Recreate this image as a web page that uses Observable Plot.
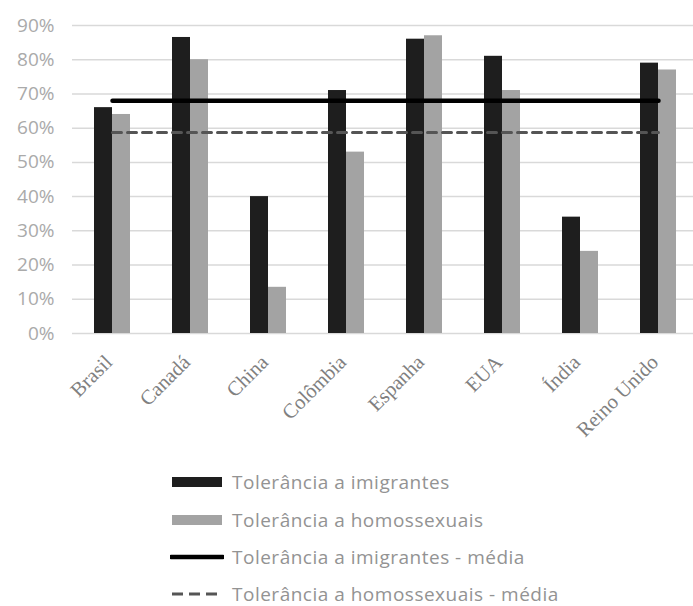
<!DOCTYPE html>
<html>
<head>
<meta charset="utf-8">
<script src="https://cdn.jsdelivr.net/npm/d3@7"></script>
<script src="https://cdn.jsdelivr.net/npm/@observablehq/plot@0.6"></script>
<style>
  html, body { margin: 0; padding: 0; background: #fff; }
  #wrap { position: relative; width: 693px; height: 606px; overflow: hidden; }
  #chart svg { display: block; }
  .leg { position: absolute; left: 170px; height: 24px; display: flex; align-items: center;
         font-family: "Open Sans", sans-serif; font-size: 19px; letter-spacing: 0.5px; color: #939393; white-space: nowrap; }
  .leg svg { margin-right: 8px; }
</style>
</head>
<body>
<div id="wrap">
  <div id="chart"></div>
  <div id="legend"></div>
</div>
<script>
const countries = ["Brasil", "Canadá", "China", "Colômbia", "Espanha", "EUA", "Índia", "Reino Unido"];
const imigrantes = [66, 86.5, 40, 71, 86, 81, 34, 79];
const homossexuais = [64, 80, 13.5, 53, 87, 71, 24, 77];
const mediaImigrantes = 68;
const mediaHomossexuais = 58.7;
const yTicks = [0, 10, 20, 30, 40, 50, 60, 70, 80, 90];
const seriesNames = [
  "Tolerância a imigrantes",
  "Tolerância a homossexuais",
  "Tolerância a imigrantes - média",
  "Tolerância a homossexuais - média"
];

const rows = countries.map((c, i) => ({country: c, imig: imigrantes[i], homo: homossexuais[i]}));

const chart = Plot.plot({
  width: 693,
  height: 440,
  marginLeft: 72,
  marginRight: 0,
  marginTop: 25,
  marginBottom: 107,
  style: {fontFamily: "Open Sans, sans-serif", background: "#fff"},
  x: {domain: countries, range: [72, 698], paddingInner: 0.54, paddingOuter: 0.27, label: null, axis: null},
  y: {domain: [0, 90], label: null},
  marks: [
    Plot.gridY(yTicks, {stroke: "#d9d9d9", strokeOpacity: 1, strokeWidth: 1.5}),
    Plot.axisY(yTicks, {tickFormat: d => d + "%", tickSize: 0, tickPadding: 18, fontSize: 19, fill: "#aaaaaa", label: null, style: {letterSpacing: "1.8px"}}),
    Plot.barY(rows, {x: "country", y: "imig", fill: "#1e1e1e", insetRight: 18}),
    Plot.barY(rows, {x: "country", y: "homo", fill: "#a3a3a3", insetLeft: 18}),
    Plot.lineY(countries, {x: d => d, y: () => mediaImigrantes, stroke: "#000", strokeWidth: 4.5}),
    Plot.lineY(countries, {x: d => d, y: () => mediaHomossexuais, stroke: "#555", strokeWidth: 3, strokeDasharray: "9,6"}),
    Plot.text(countries, {x: d => d, frameAnchor: "bottom", rotate: -45, textAnchor: "end", dx: 1, dy: 30,
      fontSize: 20.5, fontFamily: "Liberation Serif, serif", fill: "#808080"})
  ]
});
document.getElementById("chart").appendChild(chart);

const legendTops = [470, 508, 545, 582];
const swatches = [
  '<svg width="54" height="24"><rect x="2" y="7" width="50" height="10" fill="#1e1e1e"/></svg>',
  '<svg width="54" height="24"><rect x="2" y="7" width="50" height="10" fill="#a3a3a3"/></svg>',
  '<svg width="54" height="24"><line x1="1" y1="12" x2="53" y2="12" stroke="#000" stroke-width="4.5" stroke-linecap="round"/></svg>',
  '<svg width="54" height="24"><line x1="2" y1="12" x2="52" y2="12" stroke="#555" stroke-width="3" stroke-dasharray="11,6"/></svg>'
];
const legend = document.getElementById("legend");
seriesNames.forEach((name, i) => {
  const d = document.createElement("div");
  d.className = "leg";
  d.style.top = legendTops[i] + "px";
  d.innerHTML = swatches[i] + "<span>" + name + "</span>";
  legend.appendChild(d);
});
</script>
</body>
</html>
